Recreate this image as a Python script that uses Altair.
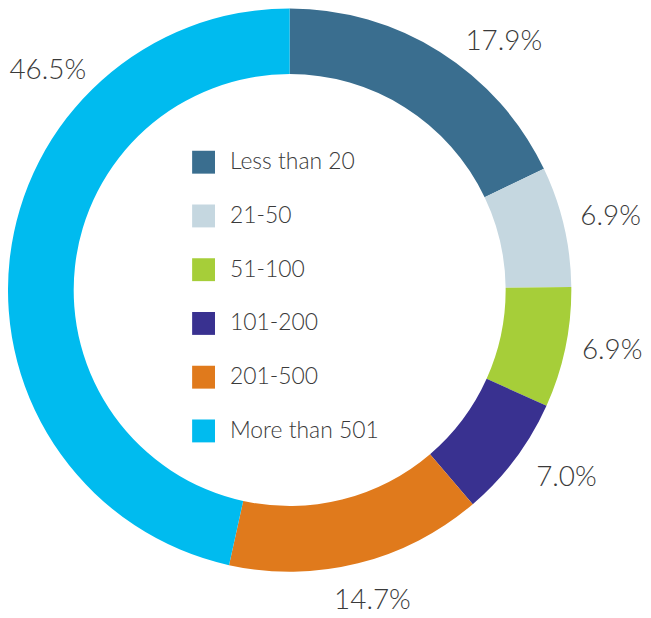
import altair as alt
import pandas as pd

categories = ["Less than 20", "21-50", "51-100", "101-200", "201-500", "More than 501"]
values = [17.9, 6.9, 6.9, 7.0, 14.7, 46.5]
labels = ["17.9%", "6.9%", "6.9%", "7.0%", "14.7%", "46.5%"]
colors = ["#3a6e8f", "#c5d7e0", "#a6ce39", "#393190", "#e07a1c", "#00bbef"]

df = pd.DataFrame({
    "category": categories,
    "value": values,
    "label": labels,
    "idx": list(range(len(categories))),
})

FONT = "Lato"
TXT = "#3a3a3a"

base = alt.Chart(df).transform_window(
    cum="sum(value)", sort=[alt.SortField("idx")]
).transform_calculate(
    mid="datum.cum - datum.value / 2"
)

theta_scale = alt.Scale(domain=[0, sum(values)])

arcs = base.mark_arc(innerRadius=217, outerRadius=283, stroke=None).encode(
    theta=alt.Theta("value:Q", stack=True, scale=theta_scale),
    order=alt.Order("idx:Q"),
    color=alt.Color(
        "category:N",
        scale=alt.Scale(domain=categories, range=colors),
        legend=alt.Legend(
            title=None,
            orient="none",
            legendX=185,
            legendY=142,
            padding=0,
            symbolType="square",
            symbolSize=529,
            symbolStrokeWidth=0,
            labelFont=FONT,
            labelFontSize=23,
            labelFontWeight=300,
            labelColor=TXT,
            labelOffset=15,
            rowPadding=30,
            labelLimit=300,
        ),
    ),
)

def text_layer(i, dx=0, dy=0):
    return base.transform_filter(f"datum.idx == {i}").mark_text(
        radius=330, font=FONT, fontSize=28, fontWeight=300, color=TXT,
        dx=dx, dy=dy, align="center", baseline="middle",
    ).encode(
        theta=alt.Theta("mid:Q", stack=False, scale=theta_scale),
        text="label:N",
    )

label_layers = [
    text_layer(0, dx=39, dy=30),
    text_layer(1, dx=1, dy=1),
    text_layer(2, dx=1, dy=-6),
    text_layer(3, dx=14, dy=-9),
    text_layer(4, dx=3, dy=-8),
    text_layer(5, dx=85, dy=-184),
]

chart = alt.layer(arcs, *label_layers).properties(
    width=566,
    height=564,
    autosize=alt.AutoSizeParams(type="none"),
    padding={"left": 0, "top": 0, "right": 72, "bottom": 42},
).configure_view(stroke=None)

chart.save("out.html", embed_options={"renderer": "svg", "actions": False})
